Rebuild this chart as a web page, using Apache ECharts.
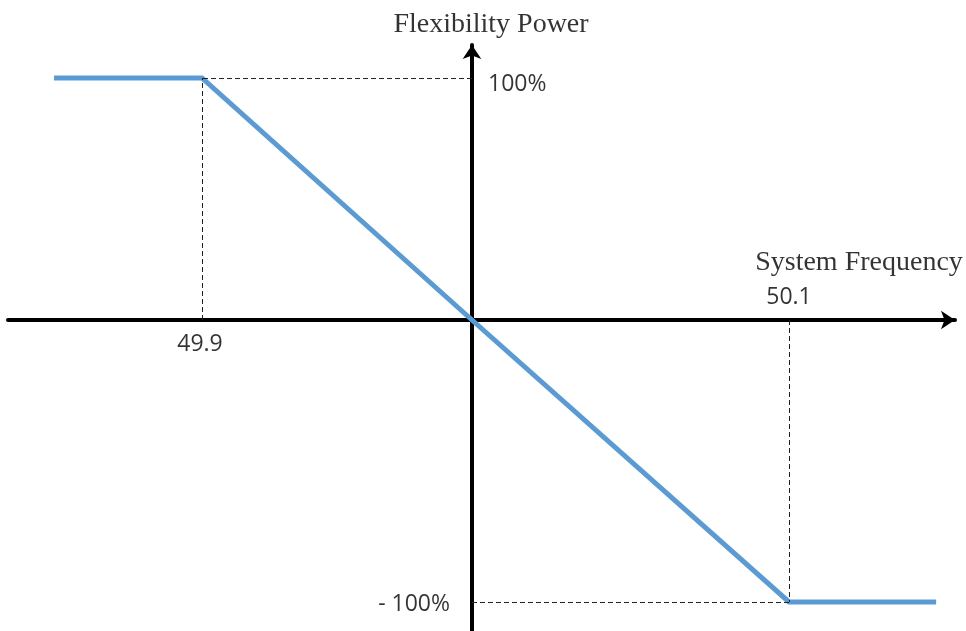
<!DOCTYPE html>
<html>
<head>
<meta charset="utf-8">
<script src="https://cdn.jsdelivr.net/npm/echarts@6/dist/echarts.min.js"></script>
<style>
  html, body { margin: 0; padding: 0; background: #fff; }
  #chart { width: 966px; height: 631px; }
</style>
</head>
<body>
<div id="chart"></div>
<script>
// Droop curve (x in normalized frequency-deviation units, y in normalized power)
const curveX = [-1.548, -1, 0, 1.174, 1.719];
const curveY = [1, 1, 0, -1.165, -1.165];

// Tick labels and their positions
const xTickLabels = ['49.9', '50.1'];
const xTickPos = [-1, 1.174];
const yTickLabels = ['100%', '- 100%'];
const yTickPos = [1, -1.165];

// Axis titles
const xAxisTitle = 'System Frequency';
const yAxisTitle = 'Flexibility Power';

const xMin = -1.7185, xMax = 1.7889;
const yMin = -1.2851, yMax = 1.1364;

const chart = echarts.init(document.getElementById('chart'), null, { renderer: 'canvas' });

const sansFont = '"Open Sans", "Noto Sans", sans-serif';
const serifFont = '"Liberation Serif", "DejaVu Serif", serif';

function textPoint(x, y, text, dx, dy, font, size, align) {
  return {
    value: [x, y],
    label: {
      show: true,
      formatter: text,
      position: [dx, dy],
      align: align || 'center',
      verticalAlign: 'middle',
      fontFamily: font,
      fontSize: size,
      color: '#000'
    }
  };
}

const labelData = [
  textPoint(xTickPos[0], 0, xTickLabels[0], -2, 24, sansFont, 23),
  textPoint(xTickPos[1], 0, xTickLabels[1], 0, -23, sansFont, 23),
  textPoint(0, yTickPos[0], yTickLabels[0], 16, 6, sansFont, 23, 'left'),
  textPoint(0, yTickPos[1], yTickLabels[1], -22, 3, sansFont, 23, 'right'),
  textPoint(0, yMax, yAxisTitle, 19, -20, serifFont, 28),
  textPoint(xMax, 0, xAxisTitle, -96, -57, serifFont, 28)
];

const dashData = [
  [{ coord: [xTickPos[0], 0] }, { coord: [curveX[1], curveY[1]] }],
  [{ coord: [0, yTickPos[0]] }, { coord: [curveX[1], curveY[1]] }],
  [{ coord: [xTickPos[1], 0] }, { coord: [curveX[3], curveY[3]] }],
  [{ coord: [0, yTickPos[1]] }, { coord: [curveX[3], curveY[3]] }]
];

const option = {
  backgroundColor: '#ffffff',
  animation: false,
  grid: { left: 8, right: 11, top: 45, bottom: 0, containLabel: false },
  xAxis: {
    type: 'value',
    min: xMin, max: xMax,
    axisLine: {
      show: true, onZero: true,
      symbol: ['none', 'arrow'], symbolSize: [14, 14],
      lineStyle: { color: '#000', width: 4 }
    },
    axisTick: { show: false },
    axisLabel: { show: false },
    splitLine: { show: false }
  },
  yAxis: {
    type: 'value',
    min: yMin, max: yMax,
    axisLine: {
      show: true, onZero: true,
      symbol: ['none', 'arrow'], symbolSize: [14, 14],
      lineStyle: { color: '#000', width: 4 }
    },
    axisTick: { show: false },
    axisLabel: { show: false },
    splitLine: { show: false }
  },
  series: [
    {
      type: 'line',
      data: [],
      z: 1,
      silent: true,
      markLine: {
        silent: true,
        symbol: ['none', 'none'],
        label: { show: false },
        lineStyle: { color: '#222', width: 1, type: [5, 3] },
        data: dashData
      }
    },
    {
      type: 'line',
      z: 3,
      data: curveX.map((x, i) => [x, curveY[i]]),
      showSymbol: false,
      symbol: 'none',
      lineStyle: { color: '#5B9BD5', width: 5, cap: 'butt', join: 'miter' },
      silent: true
    },
    {
      type: 'scatter',
      z: 4,
      symbolSize: 0,
      silent: true,
      data: labelData
    }
  ]
};

chart.setOption(option);
</script>
</body>
</html>
